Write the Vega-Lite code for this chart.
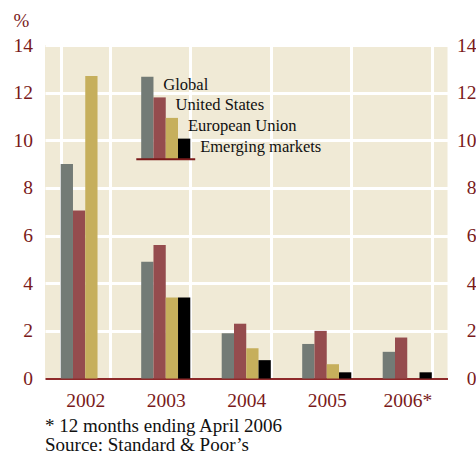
{
  "$schema": "https://vega.github.io/schema/vega-lite/v6.json",
  "width": 402.5,
  "height": 333.5,
  "autosize": {"type": "none"},
  "padding": {"left": 45, "top": 45, "right": 28.5, "bottom": 76.5},
  "background": "white",
  "config": {
    "view": {"fill": "#F0EAD6", "stroke": null},
    "font": "'Liberation Serif', 'Times New Roman', serif"
  },
  "title": {
    "text": ["* 12 months ending April 2006", "Source: Standard & Poor’s"],
    "orient": "bottom",
    "anchor": "start",
    "frame": "group",
    "font": "'Liberation Serif', 'Times New Roman', serif",
    "fontSize": 19,
    "fontWeight": "normal",
    "color": "#111111",
    "lineHeight": 19,
    "offset": 7
  },
  "datasets": {
    "main": [
      {"year": "2002", "series": "Global", "value": 9.0},
      {"year": "2002", "series": "United States", "value": 7.05},
      {"year": "2002", "series": "European Union", "value": 12.7},
      {"year": "2003", "series": "Global", "value": 4.9},
      {"year": "2003", "series": "United States", "value": 5.6},
      {"year": "2003", "series": "European Union", "value": 3.4},
      {"year": "2003", "series": "Emerging markets", "value": 3.4},
      {"year": "2004", "series": "Global", "value": 1.9},
      {"year": "2004", "series": "United States", "value": 2.3},
      {"year": "2004", "series": "European Union", "value": 1.27},
      {"year": "2004", "series": "Emerging markets", "value": 0.77},
      {"year": "2005", "series": "Global", "value": 1.45},
      {"year": "2005", "series": "United States", "value": 2.0},
      {"year": "2005", "series": "European Union", "value": 0.6},
      {"year": "2005", "series": "Emerging markets", "value": 0.26},
      {"year": "2006*", "series": "Global", "value": 1.12},
      {"year": "2006*", "series": "United States", "value": 1.72},
      {"year": "2006*", "series": "Emerging markets", "value": 0.26}
    ],
    "legend": [
      {"year": "2003", "series": "Global", "top": 12.67},
      {"year": "2003", "series": "United States", "top": 11.8},
      {"year": "2003", "series": "European Union", "top": 10.94},
      {"year": "2003", "series": "Emerging markets", "top": 10.07}
    ],
    "underline": [
      {"year": "2003"}
    ]
  },
  "resolve": {"axis": {"y": "independent"}},
  "layer": [
    {
      "data": {"name": "main"},
      "mark": {"type": "bar"},
      "encoding": {
        "x": {
          "field": "year", "type": "nominal", "sort": null, "title": null,
          "scale": {"paddingInner": 0.39, "paddingOuter": 0.195},
          "axis": {
            "title": null, "labelAngle": 0, "labelColor": "#7A1A1A", "labelFont": "'Liberation Serif', 'Times New Roman', serif",
            "labelFontSize": 19.5, "labelPadding": 13, "ticks": false, "tickSize": 0,
            "domain": true, "domainColor": "#8E2A2A", "domainWidth": 2,
            "grid": true, "gridColor": "white", "gridWidth": 3, "tickBand": "extent"
          }
        },
        "xOffset": {
          "field": "series", "type": "nominal",
          "sort": ["Global", "United States", "European Union", "Emerging markets"],
          "scale": {"domain": ["Global", "United States", "European Union", "Emerging markets"], "paddingInner": 0, "paddingOuter": 0}
        },
        "y": {
          "field": "value", "type": "quantitative", "title": "%",
          "scale": {"domain": [0, 14], "nice": false, "zero": true},
          "axis": {
            "orient": "left", "values": [0, 2, 4, 6, 8, 10, 12, 14],
            "labelColor": "#7A1A1A", "labelFont": "'Liberation Serif', 'Times New Roman', serif", "labelFontSize": 19.5,
            "labelPadding": 12.5, "labelFlush": false, "labelOverlap": false,
            "ticks": false, "tickSize": 0, "domain": false,
            "grid": true, "gridColor": "white", "gridWidth": 3,
            "gridOpacity": {"condition": {"test": "datum.value === 0", "value": 0}, "value": 1},
            "title": "%", "titleAngle": 0, "titleX": -32, "titleY": -25,
            "titleAlign": "left", "titleBaseline": "middle", "titleFont": "'Liberation Serif', 'Times New Roman', serif",
            "titleFontSize": 19, "titleFontWeight": "normal", "titleColor": "#7A1A1A"
          }
        },
        "color": {
          "field": "series", "type": "nominal",
          "scale": {
            "domain": ["Global", "United States", "European Union", "Emerging markets"],
            "range": ["#737B76", "#954C4E", "#C6AF5C", "#000000"]
          },
          "legend": null
        }
      }
    },
    {
      "data": {"name": "legend"},
      "mark": {"type": "bar"},
      "encoding": {
        "x": {"field": "year", "type": "nominal", "sort": null, "title": null},
        "xOffset": {"field": "series", "type": "nominal", "sort": ["Global", "United States", "European Union", "Emerging markets"]},
        "y": {
          "field": "top", "type": "quantitative", "title": null,
          "axis": {
            "orient": "right", "values": [0, 2, 4, 6, 8, 10, 12, 14],
            "labelColor": "#7A1A1A", "labelFont": "'Liberation Serif', 'Times New Roman', serif", "labelFontSize": 19.5,
            "labelAlign": "right", "labelPadding": 28.5, "labelFlush": false, "labelOverlap": false,
            "ticks": false, "tickSize": 0, "domain": false, "grid": false, "title": null
          }
        },
        "y2": {"datum": 9.2},
        "color": {"field": "series", "type": "nominal", "legend": null}
      }
    },
    {
      "data": {"name": "legend"},
      "mark": {"type": "text", "align": "left", "baseline": "middle", "dx": 16, "dy": 8, "fontSize": 16.5, "font": "'Liberation Serif', 'Times New Roman', serif", "color": "#111111"},
      "encoding": {
        "x": {"field": "year", "type": "nominal", "sort": null, "title": null},
        "xOffset": {"field": "series", "type": "nominal", "sort": ["Global", "United States", "European Union", "Emerging markets"]},
        "y": {"field": "top", "type": "quantitative", "axis": null},
        "text": {"field": "series"}
      }
    },
    {
      "data": {"name": "underline"},
      "mark": {"type": "rule", "color": "#7A1A1A", "strokeWidth": 2},
      "encoding": {
        "x": {"field": "year", "type": "nominal", "sort": null, "title": null, "bandPosition": -0.1},
        "x2": {"field": "year", "bandPosition": 1.1},
        "y": {"datum": 9.2, "type": "quantitative", "axis": null}
      }
    }
  ]
}
